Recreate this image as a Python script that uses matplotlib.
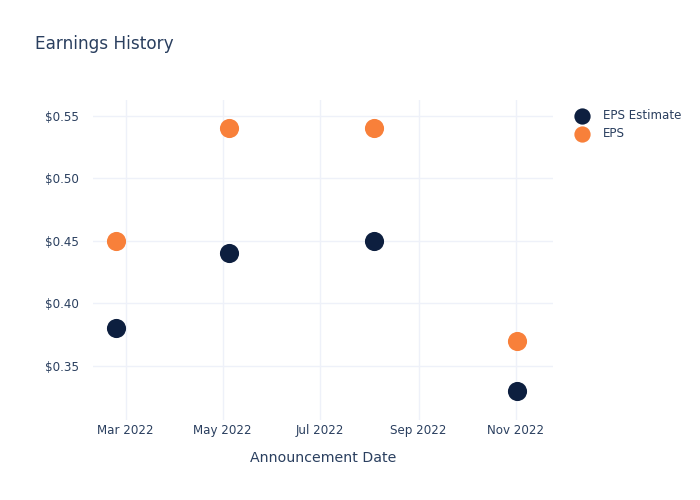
import matplotlib
matplotlib.use("Agg")
import matplotlib.pyplot as plt
from matplotlib.ticker import FuncFormatter
import datetime as dt

dates = ["2022-02-23", "2022-05-05", "2022-08-04", "2022-11-02"]
eps_estimate = [0.38, 0.44, 0.45, 0.33]
eps_actual = [0.45, 0.54, 0.54, 0.37]
tick_dates = ["2022-03-01", "2022-05-01", "2022-07-01", "2022-09-01", "2022-11-01"]
tick_labels = ["Mar 2022", "May 2022", "Jul 2022", "Sep 2022", "Nov 2022"]
y_ticks = [0.35, 0.40, 0.45, 0.50, 0.55]

text_color = "#2a3f5f"
grid_color = "#eef1f9"
navy = "#0d1f3f"
orange = "#f8803a"

x = [dt.datetime.fromisoformat(d) for d in dates]
xt = [dt.datetime.fromisoformat(d) for d in tick_dates]

fig = plt.figure(figsize=(7, 5), dpi=100)
ax = fig.add_axes([0.133, 0.16, 0.657, 0.64])
ax.scatter(x, eps_estimate, s=190, color=navy, label="EPS Estimate", zorder=3, linewidths=0)
ax.scatter(x, eps_actual, s=190, color=orange, label="EPS", zorder=3, linewidths=0)

ax.set_xlim(dt.datetime(2022, 2, 8, 12), dt.datetime(2022, 11, 24, 12))
ax.set_ylim(0.3068, 0.5625)
ax.set_xticks(xt)
ax.set_xticklabels(tick_labels)
ax.set_yticks(y_ticks)
ax.yaxis.set_major_formatter(FuncFormatter(lambda v, p: f"${v:.2f}"))
ax.grid(True, color=grid_color, linewidth=1)
ax.set_axisbelow(True)
for s in ax.spines.values():
    s.set_visible(False)
ax.tick_params(length=0, labelsize=8.6, colors=text_color)
ax.tick_params(axis="y", pad=10)
ax.tick_params(axis="x", pad=3)
ax.set_xlabel("Announcement Date", fontsize=10.2, color=text_color, labelpad=10)

fig.text(0.05, 0.912, "Earnings History", fontsize=12.2, color=text_color, va="center")

leg = ax.legend(loc="upper left", bbox_to_anchor=(1.022, 0.994), frameon=False,
                fontsize=8.6, labelcolor=text_color, handletextpad=0.75,
                markerscale=0.85, borderaxespad=0.2, labelspacing=0.45)

fig.savefig("out.png", dpi=100, facecolor="white")
